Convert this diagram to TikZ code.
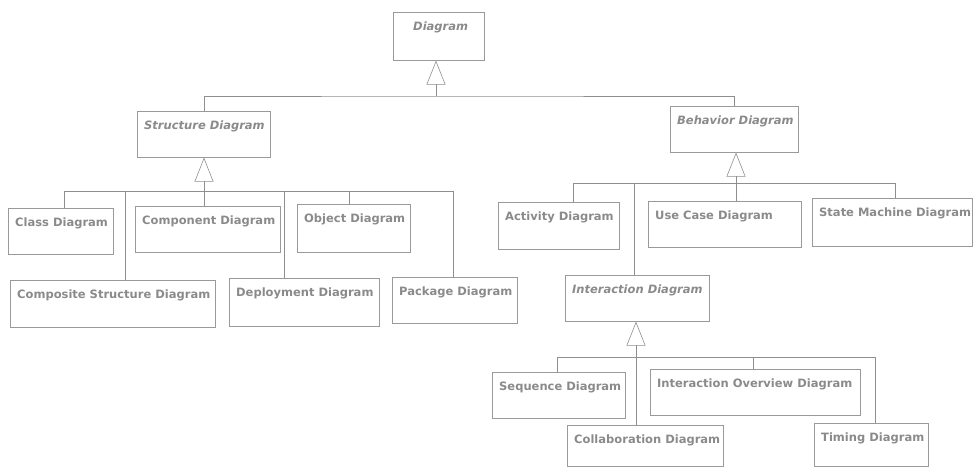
\documentclass[tikz,border=0pt]{standalone}
\usepackage{fontspec}
\setmainfont{DejaVu Sans}
\usetikzlibrary{arrows.meta}
\definecolor{linegray}{HTML}{8E8E8E}
\definecolor{boxgray}{HTML}{9A9A9A}
\definecolor{txtgray}{HTML}{8A8A8A}
\tikzset{
  umlbox/.style={draw=boxgray, line width=0.6pt, inner sep=0pt, anchor=north west},
  cname/.style={text=txtgray, font=\fontsize{11.5}{13}\selectfont\bfseries, inner sep=0pt, anchor=base west},
  aname/.style={cname, font=\fontsize{11.5}{13}\selectfont\bfseries\itshape},
  conn/.style={draw=linegray, line width=0.6pt},
  gen/.style={conn, -{Triangle[open, length=24pt, width=19pt]}},
}
% class box: name, text style, x1, y1, x2, y2, label
\newcommand\umlclass[7]{%
  \node[umlbox, minimum width=#5pt-#3pt, minimum height=#6pt-#4pt] (#1) at (#3,#4) {};
  \node[#2] (#1-name) at (#3+7,#4+18) {#7};
}
\begin{document}
\begin{tikzpicture}[x=1pt,y=-1pt]
\useasboundingbox (0,0) rectangle (974,469);

% root
\node[umlbox, minimum width=91pt, minimum height=48pt] (diagram) at (393,12) {};
\node[aname] (diagram-name) at (413,30) {Diagram};

% abstract kinds
\umlclass{structure}{aname}{137}{111}{270}{157}{Structure Diagram}
\umlclass{behavior}{aname}{670}{106}{798}{152}{Behavior Diagram}
\umlclass{interaction}{aname}{565}{275}{709}{321}{Interaction Diagram}

% structure diagrams
\umlclass{classd}{cname}{8}{208}{113}{254}{Class Diagram}
\umlclass{component}{cname}{135}{206}{280}{252}{Component Diagram}
\umlclass{object}{cname}{297}{204}{410}{252}{Object Diagram}
\umlclass{composite}{cname}{10}{280}{215}{327}{Composite Structure Diagram}
\umlclass{deployment}{cname}{229}{278}{379}{326}{Deployment Diagram}
\umlclass{package}{cname}{392}{277}{517}{323}{Package Diagram}

% behavior diagrams
\umlclass{activity}{cname}{498}{202}{619}{249}{Activity Diagram}
\umlclass{usecase}{cname}{648}{201}{801}{247}{Use Case Diagram}
\umlclass{statemachine}{cname}{812}{198}{972}{246}{State Machine Diagram}

% interaction diagrams
\umlclass{sequence}{cname}{492}{372}{625}{418}{Sequence Diagram}
\umlclass{overview}{cname}{650}{369}{860}{415}{Interaction Overview Diagram}
\umlclass{collaboration}{cname}{567}{425}{723}{466}{Collaboration Diagram}
\umlclass{timing}{cname}{814}{423}{928}{466}{Timing Diagram}

% Diagram generalization
\coordinate (topJ) at (436,96);
\draw[gen] (topJ) -- (diagram.south -| topJ);
\draw[conn] (structure.north) |- (topJ) -| (behavior.north);

% Structure Diagram generalization
\coordinate (sJ) at (204,191);
\coordinate (jClass) at (64,191);
\coordinate (jComposite) at (125,191);
\coordinate (jDeploy) at (284,191);
\coordinate (jObject) at (349,191);
\coordinate (jPackage) at (453,191);
\draw[gen] (sJ) -- (structure.south -| sJ);
\draw[conn] (jClass) -- (jPackage);
\draw[conn] (jClass) -- (classd.north -| jClass);
\draw[conn] (sJ) -- (component.north -| sJ);
\draw[conn] (jObject) -- (object.north -| jObject);
\draw[conn] (jComposite) -- (composite.north -| jComposite);
\draw[conn] (jDeploy) -- (deployment.north -| jDeploy);
\draw[conn] (jPackage) -- (package.north -| jPackage);

% Behavior Diagram generalization
\coordinate (bJ) at (736,183);
\coordinate (jActivity) at (573,183);
\coordinate (jInteraction) at (634,183);
\coordinate (jState) at (895,183);
\draw[gen] (bJ) -- (behavior.south -| bJ);
\draw[conn] (jActivity) -- (jState);
\draw[conn] (jActivity) -- (activity.north -| jActivity);
\draw[conn] (bJ) -- (usecase.north -| bJ);
\draw[conn] (jState) -- (statemachine.north -| jState);
\draw[conn] (jInteraction) -- (interaction.north -| jInteraction);

% Interaction Diagram generalization
\coordinate (iJ) at (636,357);
\coordinate (jSeq) at (557,357);
\coordinate (jOverview) at (753,357);
\coordinate (jTiming) at (875,357);
\draw[gen] (iJ) -- (interaction.south -| iJ);
\draw[conn] (jSeq) -- (jTiming);
\draw[conn] (jSeq) -- (sequence.north -| jSeq);
\draw[conn] (iJ) -- (collaboration.north -| iJ);
\draw[conn] (jOverview) -- (overview.north -| jOverview);
\draw[conn] (jTiming) -- (timing.north -| jTiming);
\end{tikzpicture}
\end{document}
